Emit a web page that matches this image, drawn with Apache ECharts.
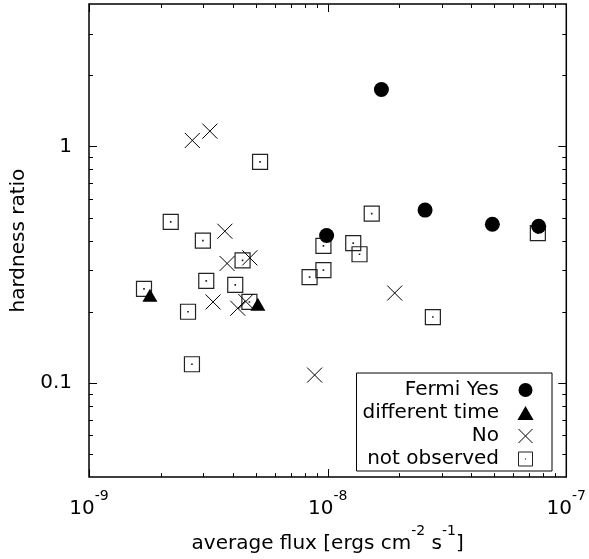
<!DOCTYPE html>
<html>
<head>
<meta charset="utf-8">
<script src="https://cdn.jsdelivr.net/npm/echarts@6/dist/echarts.min.js"></script>
<style>
  html, body { margin: 0; padding: 0; background: #fff; }
  #chart { width: 589px; height: 559px; }
</style>
</head>
<body>
<div id="chart"></div>
<script>
// Average flux [ergs cm^-2 s^-1] and hardness ratio for each source group
const fermiYesFlux  = [1.68e-8, 2.56e-8, 4.9e-8, 7.66e-8, 9.9e-9];
const fermiYesRatio = [1.74, 0.538, 0.469, 0.46, 0.42];

const diffTimeFlux  = [1.8e-9, 5.1e-9];
const diffTimeRatio = [0.235, 0.215];

const noFlux  = [2.71e-9, 3.21e-9, 3.71e-9, 3.79e-9, 4.72e-9, 3.31e-9, 4.2e-9, 4.54e-9, 1.91e-8, 8.82e-9];
const noRatio = [1.06, 1.16, 0.438, 0.32, 0.338, 0.22, 0.207, 0.221, 0.24, 0.108];

const notObsFlux  = [5.21e-9, 2.2e-9, 3.0e-9, 4.4e-9, 3.1e-9, 4.1e-9, 1.7e-9, 4.7e-9, 2.6e-9,
                     2.7e-9, 1.53e-8, 9.6e-9, 1.28e-8, 1.36e-8, 9.6e-9, 8.4e-9, 2.76e-8, 7.6e-8];
const notObsRatio = [0.86, 0.48, 0.40, 0.33, 0.27, 0.26, 0.25, 0.22, 0.20,
                     0.12, 0.52, 0.38, 0.39, 0.35, 0.30, 0.28, 0.19, 0.43];

// Axis ranges, labelled ticks and minor ticks
const xRange = [1e-9, 1e-7];
const yRange = [0.04, 4];
const xLabelValues = [1e-9, 1e-8, 1e-7];
const xLabelExponents = ['-9', '-8', '-7'];
const yLabelValues = [0.1, 1];
const yLabelTexts = ['0.1', '1'];
const xMinorTicks = [2e-9, 3e-9, 4e-9, 5e-9, 6e-9, 7e-9, 8e-9, 9e-9,
                     2e-8, 3e-8, 4e-8, 5e-8, 6e-8, 7e-8, 8e-8, 9e-8];
const yMinorTicks = [0.05, 0.06, 0.07, 0.08, 0.09, 0.2, 0.3, 0.4, 0.5, 0.6, 0.7, 0.8, 0.9, 2, 3];

const legendNames = ['Fermi Yes', 'different time', 'No', 'not observed'];

const FONT = 'DejaVu Sans';

// marker shapes
const TRIANGLE = 'path://M10,0L20,17.3L0,17.3Z';
const CROSS = 'path://M0,0L20,20M20,0L0,20';
const DOTTED_BOX = 'path://M0,0H20V20H0ZM9.7,9.7H10.3V10.3H9.7Z';

function pairs(xs, ys) { return xs.map((x, i) => [x, ys[i]]); }

// tick data: [value, dummy, isMajor]
const xTickData = xLabelValues.map(v => [v, 1, 1]).concat(xMinorTicks.map(v => [v, 1, 0]));
const yTickData = yLabelValues.map(v => [1e-8, v, 1]).concat(yMinorTicks.map(v => [1e-8, v, 0]));

const MAJOR_LEN = 8, MINOR_LEN = 4;
const tickStyle = { stroke: '#000', lineWidth: 1 };

// gnuplot-style inward ticks, mirrored on the opposite side
function renderXTick(params, api) {
  const cs = params.coordSys;
  const px = Math.round(api.coord([api.value(0), 1])[0]) + 0.5;
  const len = api.value(2) ? MAJOR_LEN : MINOR_LEN;
  const bottom = cs.y + cs.height, top = cs.y;
  return { type: 'group', children: [
    { type: 'line', shape: { x1: px, y1: bottom, x2: px, y2: bottom - len }, style: tickStyle },
    { type: 'line', shape: { x1: px, y1: top, x2: px, y2: top + len }, style: tickStyle }
  ]};
}
function renderYTick(params, api) {
  const cs = params.coordSys;
  const py = Math.round(api.coord([1e-8, api.value(1)])[1]) + 0.5;
  const len = api.value(2) ? MAJOR_LEN : MINOR_LEN;
  const left = cs.x, right = cs.x + cs.width;
  return { type: 'group', children: [
    { type: 'line', shape: { x1: left, y1: py, x2: left + len, y2: py }, style: tickStyle },
    { type: 'line', shape: { x1: right, y1: py, x2: right - len, y2: py }, style: tickStyle }
  ]};
}

const chart = echarts.init(document.getElementById('chart'), null, { renderer: 'canvas' });

chart.setOption({
  animation: false,
  backgroundColor: '#fff',
  textStyle: { fontFamily: FONT, color: '#000' },
  grid: {
    left: 89, right: 22, top: 4, bottom: 78,
    show: true, borderColor: '#000', borderWidth: 1.5, backgroundColor: 'transparent'
  },
  xAxis: {
    type: 'log', logBase: 10, min: xRange[0], max: xRange[1],
    axisLine: { show: false }, axisTick: { show: false }, splitLine: { show: false },
    axisLabel: {
      customValues: xLabelValues,
      margin: 12,
      formatter: function (v) {
        let idx = 0, best = Infinity;
        xLabelValues.forEach((t, i) => {
          const d = Math.abs(Math.log10(t) - Math.log10(v));
          if (d < best) { best = d; idx = i; }
        });
        return '{b|10}{s|' + xLabelExponents[idx] + '}';
      },
      rich: {
        b: { fontFamily: FONT, fontSize: 20, lineHeight: 30, verticalAlign: 'bottom', color: '#000' },
        s: { fontFamily: FONT, fontSize: 14, lineHeight: 12, verticalAlign: 'top', color: '#000' }
      }
    },
    name: '{a|average flux [ergs cm}{s|-2}{a| s}{s|-1}{a|]}',
    nameLocation: 'middle',
    nameGap: 44,
    nameTextStyle: {
      rich: {
        a: { fontFamily: FONT, fontSize: 20, lineHeight: 30, verticalAlign: 'bottom', color: '#000' },
        s: { fontFamily: FONT, fontSize: 14, lineHeight: 12, verticalAlign: 'top', color: '#000' }
      }
    }
  },
  yAxis: {
    type: 'log', logBase: 10, min: yRange[0], max: yRange[1],
    axisLine: { show: false }, axisTick: { show: false }, splitLine: { show: false },
    axisLabel: {
      customValues: yLabelValues,
      margin: 17,
      fontFamily: FONT, fontSize: 20, color: '#000',
      formatter: function (v) {
        let idx = 0, best = Infinity;
        yLabelValues.forEach((t, i) => {
          const d = Math.abs(Math.log10(t) - Math.log10(v));
          if (d < best) { best = d; idx = i; }
        });
        return yLabelTexts[idx];
      }
    },
    name: 'hardness ratio',
    nameLocation: 'middle',
    nameGap: 60,
    nameTextStyle: { fontFamily: FONT, fontSize: 20, color: '#000' }
  },
  legend: {
    data: [
      { name: legendNames[0], icon: 'circle' },
      { name: legendNames[1], icon: TRIANGLE },
      { name: legendNames[2], icon: CROSS },
      { name: legendNames[3], icon: DOTTED_BOX }
    ],
    orient: 'vertical',
    align: 'right',
    right: 37, bottom: 88,
    padding: [7, 17, 2, 6],
    itemWidth: 43, itemHeight: 14, itemGap: 3,
    symbolKeepAspect: true,
    backgroundColor: '#fff',
    borderColor: '#000', borderWidth: 1, borderRadius: 0,
    selectedMode: false,
    textStyle: { fontFamily: FONT, fontSize: 20, color: '#000' },
    itemStyle: { borderWidth: 1, opacity: 1 }
  },
  series: [
    {
      name: 'Fermi Yes', type: 'scatter', z: 4,
      symbol: 'circle', symbolSize: 15,
      itemStyle: { color: '#000', opacity: 1 },
      data: pairs(fermiYesFlux, fermiYesRatio)
    },
    {
      name: 'different time', type: 'scatter', z: 4,
      symbol: TRIANGLE, symbolSize: 15, symbolKeepAspect: true,
      itemStyle: { color: '#000', opacity: 1 },
      data: pairs(diffTimeFlux, diffTimeRatio)
    },
    {
      name: 'No', type: 'scatter', z: 3,
      symbol: CROSS, symbolSize: 15,
      itemStyle: { color: 'none', borderColor: '#000', borderWidth: 1, opacity: 1 },
      data: pairs(noFlux, noRatio)
    },
    {
      name: 'not observed', type: 'scatter', z: 2,
      symbol: DOTTED_BOX, symbolSize: 15,
      itemStyle: { color: 'none', borderColor: '#222', borderWidth: 1.2, opacity: 1 },
      data: pairs(notObsFlux, notObsRatio)
    },
    {
      type: 'custom', z: 6, silent: true,
      coordinateSystem: 'cartesian2d',
      encode: { x: 0, y: 1 },
      renderItem: renderXTick,
      data: xTickData
    },
    {
      type: 'custom', z: 6, silent: true,
      coordinateSystem: 'cartesian2d',
      encode: { x: 0, y: 1 },
      renderItem: renderYTick,
      data: yTickData
    }
  ]
});
</script>
</body>
</html>
